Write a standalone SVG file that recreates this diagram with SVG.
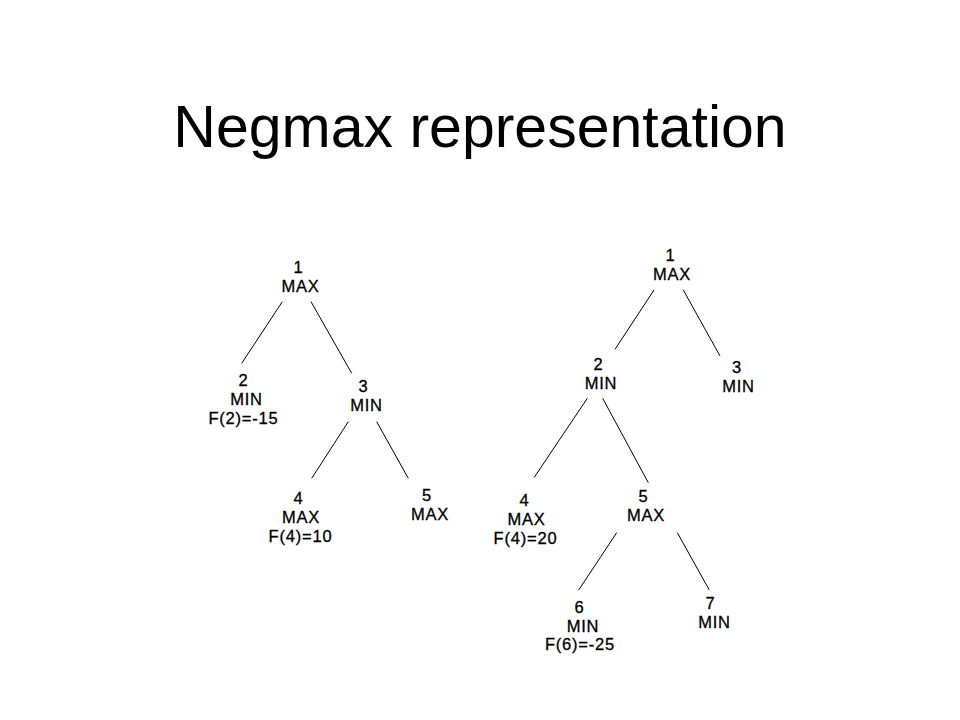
<svg xmlns="http://www.w3.org/2000/svg" width="960" height="720" viewBox="0 0 960 720">
<style>
text{font-family:"Liberation Sans",Arial,sans-serif;fill:#000;text-anchor:middle}
.t{font-size:59px}
.n{font-size:16.5px;letter-spacing:0.8px;stroke:#000;stroke-width:0.3px}
.e{stroke:#000;stroke-width:1;fill:none}
</style>
<rect width="960" height="720" fill="#fff"/>
<text class="t" x="480" y="147">Negmax representation</text>
<g id="connectors">
<line class="e" x1="282.3" y1="301.7" x2="241.7" y2="363.3"/>
<line class="e" x1="311" y1="301.7" x2="351.7" y2="373.3"/>
<line class="e" x1="348.3" y1="421.7" x2="311.7" y2="478.3"/>
<line class="e" x1="376.7" y1="421.7" x2="408.3" y2="478.3"/>
<line class="e" x1="654" y1="290" x2="615" y2="349.3"/>
<line class="e" x1="683.3" y1="290" x2="720" y2="356"/>
<line class="e" x1="587.3" y1="398.3" x2="534.3" y2="477.3"/>
<line class="e" x1="602.7" y1="398.3" x2="648.3" y2="482.7"/>
<line class="e" x1="616.7" y1="532.7" x2="578.7" y2="590"/>
<line class="e" x1="677.3" y1="532.7" x2="709.3" y2="590"/>
</g>
<g id="L1"><text class="n" x="298.5" y="273">1</text><text class="n" x="300.5" y="292">MAX</text></g>
<g id="L2"><text class="n" x="243.5" y="386">2</text><text class="n" x="246.5" y="405">MIN</text><text class="n" x="243.5" y="424">F(2)=-15</text></g>
<g id="L3"><text class="n" x="363.5" y="392">3</text><text class="n" x="366.5" y="411">MIN</text></g>
<g id="L4"><text class="n" x="298.5" y="504">4</text><text class="n" x="301" y="523">MAX</text><text class="n" x="300.5" y="542">F(4)=10</text></g>
<g id="L5"><text class="n" x="427" y="501">5</text><text class="n" x="430" y="520">MAX</text></g>
<g id="R1"><text class="n" x="670.5" y="261">1</text><text class="n" x="672" y="280">MAX</text></g>
<g id="R2"><text class="n" x="598.5" y="370">2</text><text class="n" x="601" y="389">MIN</text></g>
<g id="R3"><text class="n" x="737" y="372.5">3</text><text class="n" x="738.5" y="391.5">MIN</text></g>
<g id="R4"><text class="n" x="524.5" y="506">4</text><text class="n" x="526.5" y="525">MAX</text><text class="n" x="525.5" y="543.5">F(4)=20</text></g>
<g id="R5"><text class="n" x="643.5" y="501.5">5</text><text class="n" x="646" y="520.5">MAX</text></g>
<g id="R6"><text class="n" x="579.5" y="612.5">6</text><text class="n" x="583" y="631.5">MIN</text><text class="n" x="580" y="650">F(6)=-25</text></g>
<g id="R7"><text class="n" x="710.5" y="609">7</text><text class="n" x="714.5" y="628">MIN</text></g>
</svg>
